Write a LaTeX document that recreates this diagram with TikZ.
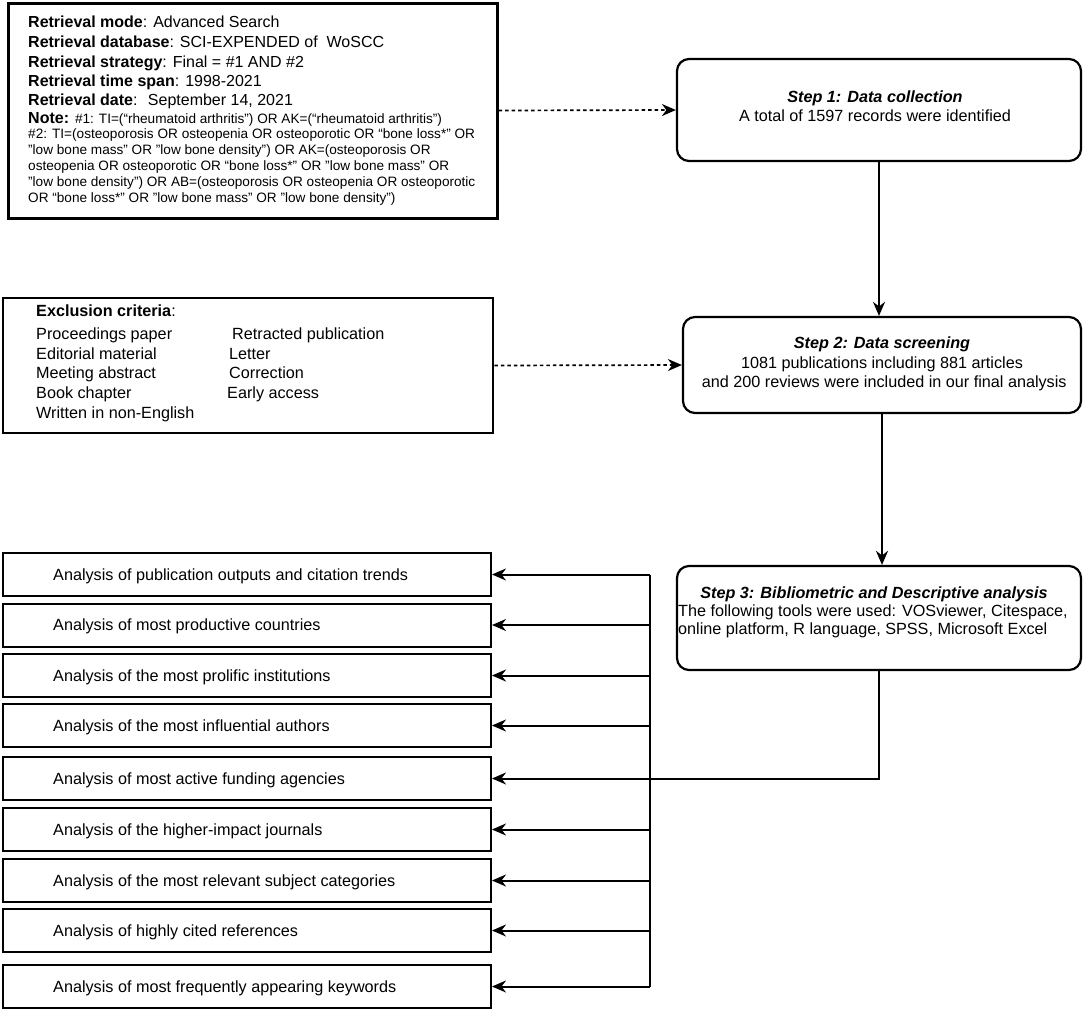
\documentclass[tikz,border=0pt]{standalone}
\usepackage{fontspec}
\setmainfont{Liberation Sans}
\usetikzlibrary{arrows.meta}
\newcommand{\szA}{\fontsize{16}{19}\selectfont}
\newcommand{\szB}{\fontsize{16.2}{19}\selectfont}
\newcommand{\szC}{\fontsize{13.6}{16}\selectfont}
\begin{document}
\begin{tikzpicture}[x=1pt,y=-1pt,
  sq/.style={draw, line width=2pt, inner sep=0pt},
  rd/.style={draw, line width=2.2pt, rounded corners=12pt, inner sep=0pt},
  txt/.style={inner sep=0pt, anchor=base west},
  ctr/.style={inner sep=0pt, anchor=base},
  arr/.style={line width=2pt, -{Stealth[length=14pt,width=12pt,inset=4.5pt]}},
  darr/.style={line width=1.7pt, dash pattern=on 3.5pt off 3pt, -{Stealth[length=14pt,width=12pt,inset=4.5pt]}}]
\useasboundingbox (0,0) rectangle (1084,1010);

% retrieval box
\node[sq, line width=3pt, minimum width=489pt, minimum height=215pt] (R) at (252.5,110.5) {};
\node[txt] (r1) at (28,27) {\szA\textbf{Retrieval mode}: Advanced Search};
\node[txt] (r2) at (28,47) {\szA\textbf{Retrieval database}: SCI-EXPENDED of \ WoSCC};
\node[txt] (r3) at (28,67) {\szA\textbf{Retrieval strategy}: Final = \#1 AND \#2};
\node[txt] (r4) at (28,86) {\szA\textbf{Retrieval time span}: 1998-2021};
\node[txt] (r5) at (28,105) {\szA\textbf{Retrieval date}: \ September 14, 2021};
\node[txt] (r6) at (28,123) {\szA\textbf{Note:} \szC\#1: TI=(“rheumatoid arthritis") OR AK=(“rheumatoid arthritis")};
\node[txt] (r7) at (28,138) {\szC\#2: TI=(osteoporosis OR osteopenia OR osteoporotic OR “bone loss*” OR};
\node[txt] (r8) at (28,154) {\szC"low bone mass" OR "low bone density") OR AK=(osteoporosis OR};
\node[txt] (r9) at (28,170) {\szC osteopenia OR osteoporotic OR “bone loss*” OR "low bone mass" OR};
\node[txt] (r10) at (28,186) {\szC"low bone density") OR AB=(osteoporosis OR osteopenia OR osteoporotic};
\node[txt] (r11) at (28,202) {\szC OR “bone loss*” OR "low bone mass" OR "low bone density")};

% exclusion box
\node[sq, line width=2.5pt, minimum width=490pt, minimum height=135pt] (E) at (248,365.5) {};
\node[txt] (e0) at (36,316) {\szB\textbf{Exclusion criteria}:};
\node[txt] (e1) at (36,339) {\szB Proceedings paper};
\node[txt] (e2) at (36,359) {\szB Editorial material};
\node[txt] (e3) at (36,378) {\szB Meeting abstract};
\node[txt] (e4) at (36,398) {\szB Book chapter};
\node[txt] (e5) at (36,418) {\szB Written in non-English};
\node[txt] (e6) at (232,339) {\szB Retracted publication};
\node[txt] (e7) at (229,359) {\szB Letter};
\node[txt] (e8) at (229,378) {\szB Correction};
\node[txt] (e9) at (227,398) {\szB Early access};

% step boxes
\node[rd, minimum width=404pt, minimum height=102pt] (s1) at (879,110) {};
\node[ctr] (s1a) at (875,102) {\szB\textbf{\itshape Step 1: Data collection}};
\node[ctr] (s1b) at (875,121) {\szB A total of 1597 records were identified};

\node[rd, minimum width=398pt, minimum height=96pt] (s2) at (882,365) {};
\node[ctr] (s2a) at (882,348) {\szB\textbf{\itshape Step 2: Data screening}};
\node[ctr] (s2b) at (882,368) {\szB 1081 publications including 881 articles};
\node[ctr] (s2c) at (882,387) {\szB \ and 200 reviews were included in our final analysis};

\node[rd, minimum width=404pt, minimum height=104pt] (s3) at (879,618) {};
\node[ctr] (s3a) at (874,598) {\szB\textbf{\itshape Step 3: Bibliometric and Descriptive analysis}};
\node[txt] (s3b) at (678,616) {\szB The following tools were used: VOSviewer, Citespace,};
\node[txt] (s3c) at (678,634) {\szB online platform, R language, SPSS, Microsoft Excel};

% analysis boxes
\foreach \i/\yc/\t in {
 1/574.5/{Analysis of publication outputs and citation trends},
 2/625/{Analysis of most productive countries},
 3/675.5/{Analysis of the most prolific institutions},
 4/725.5/{Analysis of the most influential authors},
 5/778.5/{Analysis of most active funding agencies},
 6/829.5/{Analysis of the higher-impact journals},
 7/880.5/{Analysis of the most relevant subject categories},
 8/930.5/{Analysis of highly cited references},
 9/986.5/{Analysis of most frequently appearing keywords}}{
  \node[sq, minimum width=488pt, minimum height=43pt] (a\i) at (247,\yc) {};
  \node[txt] (t\i) at (53,\yc+5.5) {\szB\t};
}

% connectors
\draw[darr] (R.east) -- (s1.west);
\draw[darr] (E.east) -- (s2.west);
\draw[arr] (s1.south) -- (s1.south |- s2.north);
\draw[arr] (s2.south) -- (s2.south |- s3.north);
\coordinate (bus) at (650,779.5);
\draw[line width=2pt] (bus |- a1.east) -- (bus |- a9.east);
\foreach \i in {1,2,3,4,6,7,8,9}{
  \draw[arr] (bus |- a\i.east) -- (a\i.east);
}
\draw[arr] (s3.south) |- (a5.east);
\end{tikzpicture}
\end{document}
